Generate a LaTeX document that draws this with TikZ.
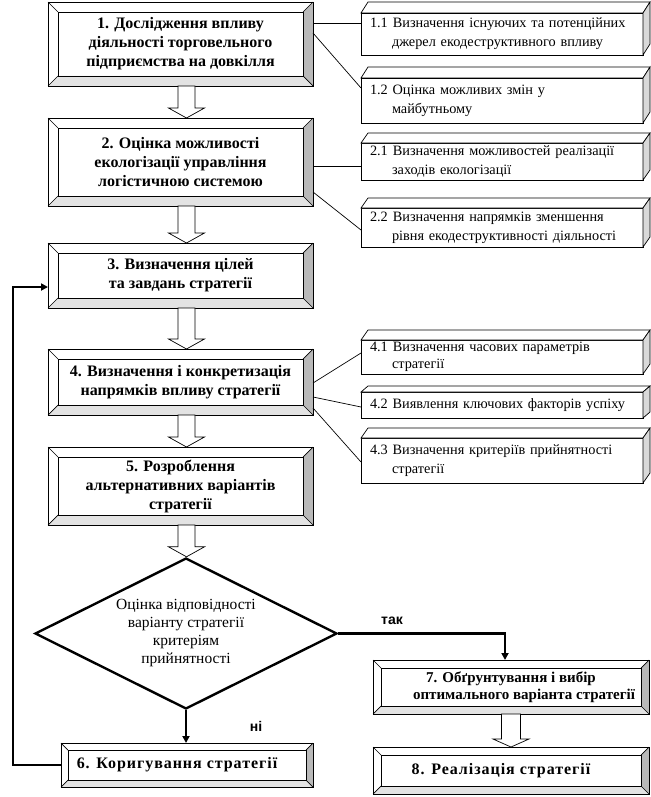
\documentclass[tikz,border=0pt]{standalone}
\usepackage{fontspec}
\setmainfont{Liberation Serif}
\newfontfamily\lblfont{Liberation Sans}
\newfontfamily\widebold[LetterSpace=6]{Liberation Serif}
\usetikzlibrary{calc,shapes.geometric,arrows.meta}

\newcommand{\bevel}[2]{%
  \fill[gray!55] (#1.north east) -- (#1.south east) -- ($(#1.south east)+(-#2,-#2)$) -- ($(#1.north east)+(-#2,#2)$) -- cycle;
  \fill[gray!22] (#1.south west) -- (#1.south east) -- ($(#1.south east)+(-#2,-#2)$) -- ($(#1.south west)+(#2,-#2)$) -- cycle;
  \draw[boxline] (#1.north west) rectangle (#1.south east);
  \draw[boxline] ($(#1.north west)+(#2,#2)$) rectangle ($(#1.south east)+(-#2,-#2)$);
  \draw[boxline] (#1.north west) -- ++(#2,#2);
  \draw[boxline] (#1.north east) -- ++(-#2,#2);
  \draw[boxline] (#1.south west) -- ++(#2,-#2);
  \draw[boxline] (#1.south east) -- ++(-#2,-#2);
}
\newcommand{\cube}[2]{%
  \filldraw[boxline,fill=white] (#1.north west) -- ++(7,-#2) -- ($(#1.north east)+(7,-#2)$) -- (#1.north east) -- cycle;
  \filldraw[boxline,fill=gray!30] (#1.north east) -- ++(7,-#2) -- ($(#1.south east)+(7,-#2)$) -- (#1.south east) -- cycle;
}
\newcommand{\harrow}[5]{% from, to, xoffset, half shaft, head length
  \draw[boxline,fill=white] let \p1=($(#1.south)+(#3,0)$), \p2=(#2.north) in
    (\x1-#4pt,\y1) -- (\x1-#4pt,\y2+#5pt) -- (\x1-18pt,\y2+#5pt) -- (\x1,\y2)
    -- (\x1+18pt,\y2+#5pt) -- (\x1+#4pt,\y2+#5pt) -- (\x1+#4pt,\y1) -- cycle;
}

\begin{document}
\begin{tikzpicture}[x=1pt,y=-1pt,
  boxline/.style={line width=0.7pt,black},
  bigbox/.style={draw=none,outer sep=0pt,inner sep=0pt,align=center,
     font=\fontsize{16}{19}\selectfont\bfseries},
  widebox/.style={bigbox,font=\widebold\fontsize{16}{19}\selectfont\bfseries},
  smallbox/.style={draw,boxline,fill=white,outer sep=0pt,inner xsep=9pt,inner ysep=0pt,
     text width=264pt,align=left,anchor=north west,font=\fontsize{14.3}{19}\selectfont},
  thick line/.style={line width=2.4pt,black},
  thick arrow/.style={thick line,-{Triangle[length=7pt,width=7pt]}},
  lbl/.style={font=\lblfont\bfseries\fontsize{14}{16}\selectfont}
]
\useasboundingbox (0,0) rectangle (650,797);

% big boxes
\node[bigbox,minimum width=265pt,minimum height=84pt] (b1) at (180.5,44)
  {1. Дослідження впливу\\діяльності торговельного\\підприємства на довкілля};
\bevel{b1}{10}
\node[bigbox,minimum width=265pt,minimum height=88pt] (b2) at (180.5,162)
  {2. Оцінка можливості\\екологізації управління\\логістичною системою};
\bevel{b2}{10}
\node[bigbox,minimum width=265pt,minimum height=65pt] (b3) at (180.5,275.5)
  {3. Визначення цілей\\та завдань стратегії};
\bevel{b3}{10}
\node[bigbox,minimum width=265pt,minimum height=66pt] (b4) at (180.5,382)
  {4. Визначення і конкретизація\\напрямків впливу стратегії};
\bevel{b4}{10}
\node[bigbox,minimum width=265pt,minimum height=78pt] (b5) at (180.5,486)
  {5. Розроблення\\альтернативних варіантів\\стратегії};
\bevel{b5}{10}
\node[widebox,minimum width=252pt,minimum height=44pt] (b6) at (187,765)
  {6. Коригування стратегії\hspace*{20pt}};
\bevel{b6}{7}
\node[bigbox,minimum width=276pt,minimum height=54pt,font=\fontsize{15}{17}\selectfont\bfseries] (b7) at (511,687)
  {7. Обґрунтування і вибір\\\hspace*{26pt}оптимального варіанта стратегії};
\bevel{b7}{8}
\node[widebox,minimum width=276pt,minimum height=47pt] (b8) at (511,770.5)
  {8. Реалізація стратегії\hspace*{20pt}};
\bevel{b8}{8}

% small 3D boxes
\node[smallbox,minimum height=42pt] (s11) at (361,13)
  {1.1\hspace{5pt}Визначення існуючих та потенційних\\\hspace*{22pt}джерел екодеструктивного впливу};
\cube{s11}{11}
\node[smallbox,minimum height=45pt] (s12) at (361,78)
  {1.2 Оцінка можливих змін у\\\hspace*{22pt}майбутньому};
\cube{s12}{11}
\node[smallbox,minimum height=37pt] (s21) at (361,143)
  {2.1\hspace{5pt}Визначення можливостей реалізації\\\hspace*{22pt}заходів екологізації};
\cube{s21}{10}
\node[smallbox,minimum height=39pt] (s22) at (361,208)
  {2.2\hspace{5pt}Визначення напрямків зменшення\\\hspace*{22pt}рівня екодеструктивності діяльності};
\cube{s22}{10}
\node[smallbox,minimum height=34pt,font=\fontsize{14.3}{17}\selectfont] (s41) at (361,340)
  {4.1\hspace{5pt}Визначення часових параметрів\\\hspace*{22pt}стратегії};
\cube{s41}{10}
\node[smallbox,minimum height=26pt] (s42) at (361,392)
  {4.2 Виявлення ключових факторів успіху};
\cube{s42}{6}
\node[smallbox,minimum height=45pt] (s43) at (361,438)
  {4.3 Визначення критеріїв прийнятності\\\hspace*{22pt}стратегії};
\cube{s43}{10}

% thin connectors
\draw[boxline] ($(b1.north east)+(0,21)$) -- ($(s11.north west)+(0,10)$);
\draw[boxline] ($(b1.north east)+(0,31)$) -- ($(s12.north west)+(0,10)$);
\draw[boxline] ($(b2.north east)+(0,48)$) -- ($(s21.north west)+(0,23)$);
\draw[boxline] ($(b2.north east)+(0,74)$) -- ($(s22.north west)+(0,22)$);
\draw[boxline] ($(b4.north east)+(0,34)$) -- ($(s41.north west)+(0,13)$);
\draw[boxline] ($(b4.north east)+(0,48)$) -- ($(s42.north west)+(0,15)$);
\draw[boxline] ($(b4.north east)+(0,59)$) -- ($(s43.north west)+(0,24)$);

% diamond
\node[diamond,draw,thick line,shape aspect=2,inner sep=0pt,minimum width=302pt,minimum height=151pt,
  align=center,font=\fontsize{15.5}{18}\selectfont] (dia) at (186,633.5)
  {Оцінка відповідності\\варіанту стратегії\\критеріям\\прийнятності};

% hollow arrows
\harrow{b1}{b2}{6}{8.5}{10}
\harrow{b2}{b3}{6}{8.5}{10}
\harrow{b3}{b4}{6}{8.5}{10}
\harrow{b4}{b5}{6}{8.5}{10}
\harrow{b5}{dia}{6}{8.5}{10}
\harrow{b7}{b8}{0}{9.5}{8}

% thick connectors
\draw[thick arrow] (dia.east) -| ($(b7.north)+(-6,0)$);
\draw[thick arrow] (dia.south) -- (dia.south |- b6.north);
\coordinate (fbin) at ($(b3.west)+(0,11.5)$);
\draw[thick arrow] (b6.west) -- ++(-48,0) |- (fbin);

% labels
\node[lbl] (yes) at (392,621) {так};
\node[lbl] (no) at (256,726) {ні};
\end{tikzpicture}
\end{document}
